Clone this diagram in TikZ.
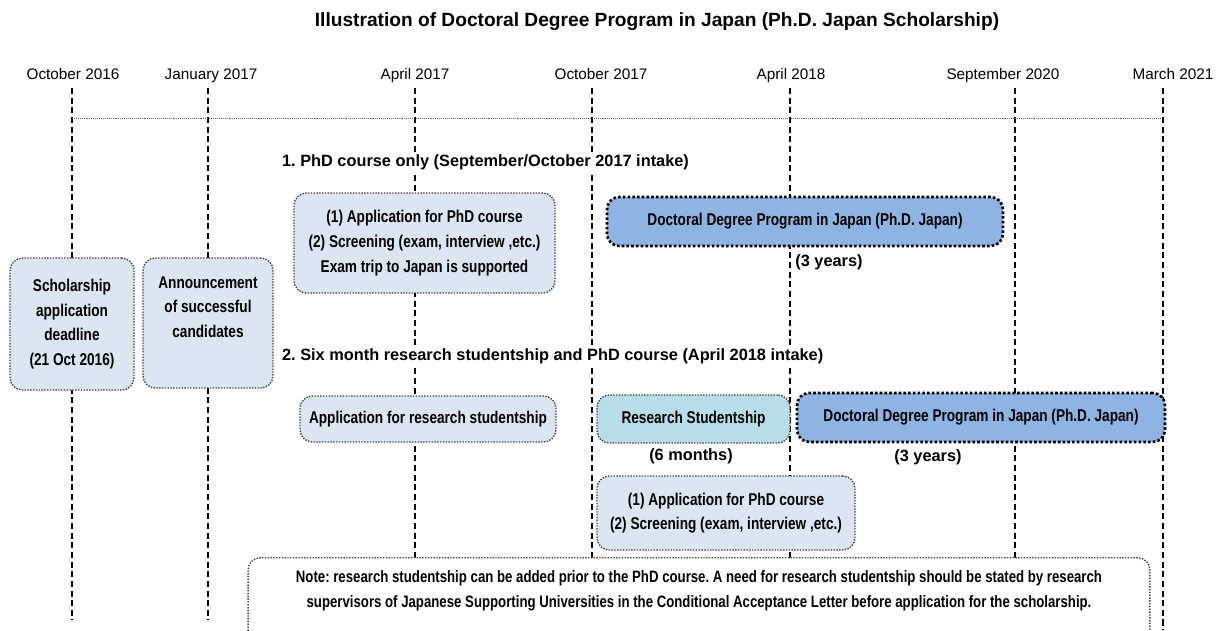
\documentclass[tikz,border=0pt]{standalone}
\usepackage{fontspec}
\setmainfont{Liberation Sans}
\newfontfamily\narrowfont[FakeStretch=0.8]{Liberation Sans}
\usetikzlibrary{positioning}
\frenchspacing

\definecolor{paleblue}{HTML}{DCE6F2}
\definecolor{midblue}{HTML}{8EB4E3}
\definecolor{paleteal}{HTML}{B7DEE8}
\definecolor{dotgray}{HTML}{404040}

\tikzset{
  datelabel/.style={font=\fontsize{8.7}{10}\selectfont, inner sep=1pt, anchor=base},
  timeline/.style={line width=0.8pt, dash pattern=on 3.5pt off 2pt},
  gridline/.style={line width=0.5pt, black!60, dash pattern=on 0.5pt off 0.6pt},
  boxtext/.style={align=center, font=\narrowfont\bfseries\fontsize{9.7}{14}\selectfont, inner sep=0pt},
  infobox/.style={boxtext, draw=dotgray, fill=paleblue, line width=0.8pt,
    dash pattern=on 0.8pt off 0.8pt, rounded corners=7pt},
  phdbox/.style={infobox, fill=midblue, draw=black, line width=1.5pt, dash pattern=on 1.5pt off 1.2pt},
  rsbox/.style={infobox, fill=paleteal},
  heading/.style={font=\bfseries\fontsize{9.3}{11}\selectfont, fill=white, inner sep=1pt, anchor=west},
  duration/.style={font=\bfseries\fontsize{9.3}{11}\selectfont, fill=white, inner sep=1pt}
}

\begin{document}
\begin{tikzpicture}[x=0.02cm, y=-0.02cm]
\useasboundingbox (0,0) rectangle (1216,630);

\node[font=\bfseries\fontsize{10.9}{13}\selectfont] (title) at (657,22) {Illustration of Doctoral Degree Program in Japan (Ph.D. Japan Scholarship)};

% dates on top
\node[datelabel] (oct16) at (73,79) {October 2016};
\node[datelabel] (jan17) at (211,79) {January 2017};
\node[datelabel] (apr17) at (415,79) {April 2017};
\node[datelabel] (oct17) at (601,79) {October 2017};
\node[datelabel] (apr18) at (791,79) {April 2018};
\node[datelabel] (sep20) at (1003,79) {September 2020};
\node[datelabel] (mar21) at (1173,79) {March 2021};

% time lines
\foreach \n/\x/\y in {a/72/620, b/208/620, c/415/630, d/592/630, e/790/630, f/1015/630, g/1163/630} {
  \coordinate (\n-top) at (\x,88);
  \coordinate (\n-grid) at (\x,118);
  \coordinate (\n-bot) at (\x,\y);
  \draw[timeline] (\n-top) -- (\n-bot);
}
\draw[gridline] (a-grid) -- (g-grid);

% boxes
\node[infobox, minimum width=2.48cm, minimum height=2.64cm] (deadline) at (72,324) {Scholarship\\application\\deadline\\(21 Oct 2016)};
\node[infobox, minimum width=2.6cm, minimum height=2.6cm] (announce) at (208,323) {};
\node[boxtext] (announcetext) at (208,307) {Announcement\\of successful\\candidates};

\node[heading] (track1) at (280,162) {1. PhD course only (September/October 2017 intake)};
\node[infobox, minimum width=5.22cm, minimum height=2cm] (apply1) at (424.5,243) {(1) Application for PhD course\\(2) Screening (exam, interview ,etc.)\\Exam trip to Japan is supported};
\node[phdbox, minimum width=7.92cm, minimum height=0.98cm] (phd1) at (805,221.5) {Doctoral Degree Program in Japan (Ph.D. Japan)};
\node[duration] (phd1len) at (829,262) {(3 years)};

\node[heading] (track2) at (280,356) {2. Six month research studentship and PhD course (April 2018 intake)};
\node[infobox, minimum width=5.12cm, minimum height=0.92cm] (apply2) at (428,419) {Application for research studentship};
\node[rsbox, minimum width=3.86cm, minimum height=0.96cm] (resstud) at (693.5,419) {Research Studentship};
\node[duration] (resstudlen) at (691,456) {(6 months)};
\node[phdbox, minimum width=7.36cm, minimum height=0.98cm] (phd2) at (981,417.5) {Doctoral Degree Program in Japan (Ph.D. Japan)};
\node[duration] (phd2len) at (928,457) {(3 years)};
\node[infobox, minimum width=5.16cm, minimum height=1.48cm] (apply3) at (726,513) {(1) Application for PhD course\\(2) Screening (exam, interview ,etc.)};

% note at the bottom
\node[infobox, fill=white, anchor=north, minimum width=18.04cm, minimum height=2cm] (note) at (699,557) {};
\node[boxtext, font=\narrowfont\bfseries\fontsize{9.4}{14}\selectfont] (notetext) at (699,591) {Note: research studentship can be added prior to the PhD course. A need for research studentship should be stated by research\\supervisors of Japanese Supporting Universities in the Conditional Acceptance Letter before application for the scholarship.};
\end{tikzpicture}
\end{document}
